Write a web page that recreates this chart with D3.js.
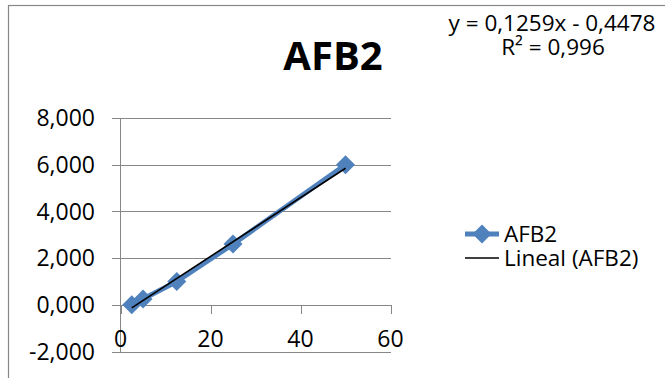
<!DOCTYPE html>
<html>
<head>
<meta charset="utf-8">
<script src="https://cdn.jsdelivr.net/npm/d3@7"></script>
<style>
  body { margin: 0; background: #fff; }
  svg { display: block; font-family: "Open Sans", "Noto Sans", sans-serif; }
</style>
</head>
<body>
<div id="chart"></div>
<script>
const concentrations = [2.5, 5, 12.5, 25, 50];
const areas = [0.0, 0.25, 1.0, 2.6, 6.0];
const xTicks = [0, 20, 40, 60];
const yTicks = [-2, 0, 2, 4, 6, 8];
const trendSlope = 0.1259;
const trendIntercept = -0.4478;
const seriesName = "AFB2";
const trendName = "Lineal (AFB2)";
const equationText = "y = 0,1259x - 0,4478";
const r2Text = "R² = 0,996";

const blue = "#4F81BD";
const gray = "#878787";

const width = 665, height = 378;
const svg = d3.select("#chart").append("svg")
  .attr("width", width)
  .attr("height", height);

// chart area border
svg.append("rect")
  .attr("x", 8.5).attr("y", 5.5)
  .attr("width", 700).attr("height", 400)
  .attr("fill", "#fff")
  .attr("stroke", gray)
  .attr("stroke-width", 1.2);

const x = d3.scaleLinear().domain([0, 60]).range([120.5, 390.5]);
const y = d3.scaleLinear().domain([-2, 8]).range([351.5, 118]);

const loc = d3.formatLocale({ decimal: ",", thousands: ".", grouping: [3], currency: ["", ""], minus: "-" });
const fmtY = loc.format(".3f");

// horizontal gridlines + y axis ticks
svg.append("g")
  .attr("transform", `translate(${x(0)},0)`)
  .call(d3.axisLeft(y).tickValues(yTicks).tickSize(-(x(60) - x(0))).tickSizeOuter(0).tickFormat(""))
  .call(g => g.select(".domain").remove())
  .call(g => g.selectAll(".tick line").attr("stroke", gray).attr("x1", -9).attr("shape-rendering", "crispEdges"));

// y labels
svg.append("g")
  .selectAll("text")
  .data(yTicks)
  .join("text")
  .attr("x", 95)
  .attr("y", d => y(d))
  .attr("dy", "0.36em")
  .attr("text-anchor", "end")
  .attr("font-size", 23)
  .attr("fill", "#000")
  .text(d => fmtY(d));

// y axis line
svg.append("line")
  .attr("x1", x(0)).attr("x2", x(0))
  .attr("y1", y(8)).attr("y2", y(-2) + 1)
  .attr("stroke", gray)
  .attr("shape-rendering", "crispEdges");

// x axis at y = 0
svg.append("g")
  .attr("transform", `translate(0,${y(0)})`)
  .call(d3.axisBottom(x).tickValues(xTicks).tickSize(9).tickSizeOuter(0).tickFormat(""))
  .call(g => g.select(".domain").attr("stroke", gray).attr("shape-rendering", "crispEdges"))
  .call(g => g.selectAll(".tick line").attr("stroke", gray).attr("shape-rendering", "crispEdges"));

// x labels (low position)
svg.append("g")
  .selectAll("text")
  .data(xTicks)
  .join("text")
  .attr("x", d => x(d))
  .attr("y", 347)
  .attr("text-anchor", "middle")
  .attr("font-size", 23)
  .attr("fill", "#000")
  .text(d => d);

// series line
const line = d3.line().x((d, i) => x(concentrations[i])).y(d => y(d));
svg.append("path")
  .datum(areas)
  .attr("fill", "none")
  .attr("stroke", blue)
  .attr("stroke-width", 5)
  .attr("stroke-linejoin", "round")
  .attr("d", line);

const diamond = d3.symbol().type(d3.symbolDiamond2).size(230);
svg.append("g")
  .selectAll("path")
  .data(areas)
  .join("path")
  .attr("transform", (d, i) => `translate(${x(concentrations[i])},${y(d)})`)
  .attr("d", diamond)
  .attr("fill", blue);

// trendline
const xMin = d3.min(concentrations), xMax = d3.max(concentrations);
svg.append("line")
  .attr("x1", x(xMin)).attr("y1", y(trendSlope * xMin + trendIntercept))
  .attr("x2", x(xMax)).attr("y2", y(trendSlope * xMax + trendIntercept))
  .attr("stroke", "#000")
  .attr("stroke-width", 1.6);

// title
svg.append("text")
  .attr("x", 333).attr("y", 70)
  .attr("text-anchor", "middle")
  .attr("font-size", 40)
  .attr("font-weight", "bold")
  .text(seriesName);

// equation
svg.append("text")
  .attr("x", 552).attr("y", 31)
  .attr("text-anchor", "middle")
  .attr("font-size", 22.5)
  .text(equationText);
svg.append("text")
  .attr("x", 553).attr("y", 55)
  .attr("text-anchor", "middle")
  .attr("font-size", 22.5)
  .text(r2Text);

// legend
const lg = svg.append("g");
lg.append("line")
  .attr("x1", 465).attr("x2", 499).attr("y1", 234).attr("y2", 234)
  .attr("stroke", blue).attr("stroke-width", 5);
lg.append("path")
  .attr("transform", "translate(482,234)")
  .attr("d", diamond)
  .attr("fill", blue);
lg.append("text")
  .attr("x", 504).attr("y", 234).attr("dy", "0.36em")
  .attr("font-size", 22.5)
  .text(seriesName);
lg.append("line")
  .attr("x1", 465).attr("x2", 499).attr("y1", 258).attr("y2", 258)
  .attr("stroke", "#000").attr("stroke-width", 1.4);
lg.append("text")
  .attr("x", 504).attr("y", 258).attr("dy", "0.36em")
  .attr("font-size", 22.5)
  .text(trendName);
</script>
</body>
</html>
